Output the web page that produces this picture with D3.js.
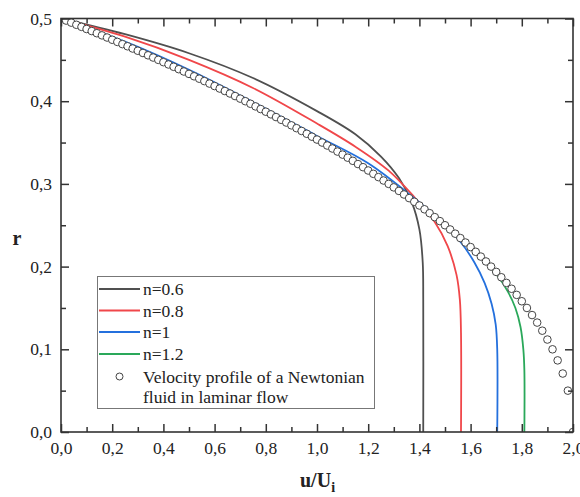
<!DOCTYPE html>
<html>
<head>
<meta charset="utf-8">
<script src="https://cdn.jsdelivr.net/npm/d3@7"></script>
<style>
  body { margin: 0; background: #fff; }
  text { font-family: "Liberation Serif", "Times New Roman", serif; fill: #222; }
</style>
</head>
<body>
<div id="chart"></div>
<script>
// Series names and colours (legend order)
const seriesNames = ["n=0.6", "n=0.8", "n=1", "n=1.2"];
const seriesColors = ["#505050", "#f0474a", "#2470dd", "#2aa85a"];

// Curves: u/Ui values and matching r values
const uN06 = [0, 0.25, 0.5, 0.75, 1.0, 1.15, 1.25, 1.32, 1.37, 1.40, 1.413, 1.415, 1.415];
const rN06 = [0.5, 0.481, 0.458, 0.428, 0.388, 0.360, 0.333, 0.307, 0.278, 0.245, 0.205, 0.16, 0];

const uN08 = [0, 0.25, 0.5, 0.75, 1.0, 1.15, 1.28, 1.38, 1.46, 1.51, 1.545, 1.558, 1.5625, 1.5625];
const rN08 = [0.5, 0.478, 0.450, 0.416, 0.373, 0.345, 0.316, 0.284, 0.254, 0.225, 0.19, 0.16, 0.12, 0];

const uN1 = [0, 0.25, 0.5, 0.75, 1.0, 1.2, 1.375, 1.47, 1.56, 1.615, 1.655, 1.682, 1.698, 1.704, 1.704];
const rN1 = [0.5, 0.472, 0.438, 0.399, 0.358, 0.325, 0.284, 0.259, 0.230, 0.205, 0.18, 0.155, 0.13, 0.10, 0];

const uN12 = [0, 0.25, 0.5, 0.75, 1.0, 1.25, 1.5, 1.65, 1.70, 1.745, 1.775, 1.795, 1.806, 1.81, 1.81];
const rN12 = [0.5, 0.468, 0.433, 0.395, 0.353, 0.305, 0.249, 0.208, 0.191, 0.170, 0.150, 0.127, 0.10, 0.075, 0];

// Newtonian laminar profile (open circles)
const uNewt = [0, 0.02, 0.04, 0.06, 0.08, 0.1, 0.12, 0.14, 0.16, 0.18, 0.2, 0.22, 0.24, 0.26, 0.28, 0.3,
  0.32, 0.34, 0.36, 0.38, 0.4, 0.42, 0.44, 0.46, 0.48, 0.5, 0.52, 0.54, 0.56, 0.58, 0.6,
  0.62, 0.64, 0.66, 0.68, 0.7, 0.72, 0.74, 0.76, 0.78, 0.8, 0.82, 0.84, 0.86, 0.88, 0.9,
  0.92, 0.94, 0.96, 0.98, 1.0, 1.02, 1.04, 1.06, 1.08, 1.1, 1.12, 1.14, 1.16, 1.18, 1.2,
  1.22, 1.24, 1.26, 1.28, 1.3, 1.32, 1.34, 1.36, 1.38, 1.4, 1.42, 1.44, 1.46, 1.48, 1.5,
  1.52, 1.54, 1.56, 1.58, 1.6, 1.62, 1.64, 1.66, 1.68, 1.7, 1.72, 1.74, 1.76, 1.78, 1.8,
  1.82, 1.84, 1.86, 1.88, 1.9, 1.92, 1.94, 1.96, 1.98, 2.0];
const rNewt = [0.5, 0.4975, 0.495, 0.4924, 0.4899, 0.4873, 0.4848, 0.4822, 0.4796, 0.477, 0.4743,
  0.4717, 0.469, 0.4664, 0.4637, 0.461, 0.4583, 0.4555, 0.4528, 0.45, 0.4472,
  0.4444, 0.4416, 0.4387, 0.4359, 0.433, 0.4301, 0.4272, 0.4243, 0.4213, 0.4183,
  0.4153, 0.4123, 0.4093, 0.4062, 0.4031, 0.4, 0.3969, 0.3937, 0.3905, 0.3873,
  0.3841, 0.3808, 0.3775, 0.3742, 0.3708, 0.3674, 0.364, 0.3606, 0.3571, 0.3536,
  0.35, 0.3464, 0.3428, 0.3391, 0.3354, 0.3317, 0.3279, 0.324, 0.3202, 0.3162,
  0.3122, 0.3082, 0.3041, 0.3, 0.2958, 0.2915, 0.2872, 0.2828, 0.2784, 0.2739,
  0.2693, 0.2646, 0.2598, 0.255, 0.25, 0.2449, 0.2398, 0.2345, 0.2291, 0.2236,
  0.2179, 0.2121, 0.2062, 0.2, 0.1936, 0.1871, 0.1803, 0.1732, 0.1658, 0.1581,
  0.15, 0.1414, 0.1323, 0.1225, 0.1118, 0.1, 0.0866, 0.0707, 0.05, 0];

// Ticks
const xMajor = [0, 0.2, 0.4, 0.6, 0.8, 1.0, 1.2, 1.4, 1.6, 1.8, 2.0];
const xMinor = [0.1, 0.3, 0.5, 0.7, 0.9, 1.1, 1.3, 1.5, 1.7, 1.9];
const yMajor = [0, 0.1, 0.2, 0.3, 0.4, 0.5];
const yMinor = [0.05, 0.15, 0.25, 0.35, 0.45];

const width = 580, height = 497;
const plotLeft = 61, plotRight = 573, plotTop = 18.5, plotBottom = 432;
const fontSize = "17.5px";

const svg = d3.select("#chart").append("svg")
    .attr("width", width)
    .attr("height", height);

const x = d3.scaleLinear().domain([0, 2]).range([plotLeft, plotRight]);
const y = d3.scaleLinear().domain([0, 0.5]).range([plotBottom, plotTop]);

const fmt = d => d3.format(".1f")(d).replace(".", ",");

svg.append("clipPath").attr("id", "plotclip")
    .append("rect")
    .attr("x", plotLeft).attr("y", plotTop)
    .attr("width", plotRight - plotLeft).attr("height", plotBottom - plotTop);

// Curves
const curves = [[uN06, rN06], [uN08, rN08], [uN1, rN1], [uN12, rN12]];
const line = d3.line()
    .x(d => x(d[0]))
    .y(d => y(d[1]))
    .curve(d3.curveCatmullRom.alpha(0.5));

const plot = svg.append("g").attr("clip-path", "url(#plotclip)");

curves.forEach((c, i) => {
    const pts = c[0].map((u, j) => [u, c[1][j]]);
    plot.append("path")
        .datum(pts)
        .attr("d", line)
        .attr("fill", "none")
        .attr("stroke", seriesColors[i])
        .attr("stroke-width", 1.8);
});

// Newtonian circles, white filled, drawn left to right
plot.selectAll("circle.newt")
    .data(uNewt.map((u, j) => [u, rNewt[j]]))
    .enter().append("circle")
    .attr("class", "newt")
    .attr("cx", d => x(d[0]))
    .attr("cy", d => y(d[1]))
    .attr("r", 3.8)
    .attr("fill", "#fff")
    .attr("stroke", "#444")
    .attr("stroke-width", 1);

// Axes: all ticks point inward
const axisColor = "#333";
function styleAxis(g) {
    g.select(".domain").remove();
    g.selectAll("line").attr("stroke", axisColor).attr("stroke-width", 1.5);
    g.selectAll("text").attr("font-size", fontSize)
        .style("font-family", "'Liberation Serif', 'Times New Roman', serif")
        .attr("fill", "#222");
}

svg.append("g").attr("transform", `translate(0,${plotBottom})`)
    .call(d3.axisBottom(x).tickValues(xMajor).tickSizeInner(-8).tickSizeOuter(0).tickPadding(10).tickFormat(fmt))
    .call(styleAxis);
svg.append("g").attr("transform", `translate(0,${plotBottom})`)
    .call(d3.axisBottom(x).tickValues(xMinor).tickSizeInner(-5).tickSizeOuter(0).tickFormat(""))
    .call(styleAxis);
svg.append("g").attr("transform", `translate(0,${plotTop})`)
    .call(d3.axisTop(x).tickValues(xMajor).tickSizeInner(-8).tickSizeOuter(0).tickFormat(""))
    .call(styleAxis);
svg.append("g").attr("transform", `translate(0,${plotTop})`)
    .call(d3.axisTop(x).tickValues(xMinor).tickSizeInner(-5).tickSizeOuter(0).tickFormat(""))
    .call(styleAxis);

svg.append("g").attr("transform", `translate(${plotLeft},0)`)
    .call(d3.axisLeft(y).tickValues(yMajor).tickSizeInner(-8).tickSizeOuter(0).tickPadding(9).tickFormat(fmt))
    .call(styleAxis);
svg.append("g").attr("transform", `translate(${plotLeft},0)`)
    .call(d3.axisLeft(y).tickValues(yMinor).tickSizeInner(-5).tickSizeOuter(0).tickFormat(""))
    .call(styleAxis);
svg.append("g").attr("transform", `translate(${plotRight},0)`)
    .call(d3.axisRight(y).tickValues(yMajor).tickSizeInner(-8).tickSizeOuter(0).tickFormat(""))
    .call(styleAxis);
svg.append("g").attr("transform", `translate(${plotRight},0)`)
    .call(d3.axisRight(y).tickValues(yMinor).tickSizeInner(-5).tickSizeOuter(0).tickFormat(""))
    .call(styleAxis);

// Frame
svg.append("rect")
    .attr("x", plotLeft).attr("y", plotTop)
    .attr("width", plotRight - plotLeft).attr("height", plotBottom - plotTop)
    .attr("fill", "none")
    .attr("stroke", axisColor)
    .attr("stroke-width", 1.6);

// Axis titles
svg.append("text")
    .attr("x", 17).attr("y", 245)
    .attr("text-anchor", "middle")
    .attr("font-size", "20px")
    .attr("font-weight", "bold")
    .text("r");

const xTitle = svg.append("text")
    .attr("x", 300).attr("y", 487)
    .attr("font-size", "20px")
    .attr("font-weight", "bold");
xTitle.append("tspan").text("u/U");
xTitle.append("tspan").attr("dy", 5).attr("font-size", "14px").text("i");

// Legend
const legend = svg.append("g");
legend.append("rect")
    .attr("x", 97.5).attr("y", 276.5)
    .attr("width", 277).attr("height", 132)
    .attr("fill", "#fff")
    .attr("stroke", "#777")
    .attr("stroke-width", 1);

const rowY = [289, 310.5, 332, 354];
seriesNames.forEach((name, i) => {
    legend.append("line")
        .attr("x1", 99).attr("x2", 140)
        .attr("y1", rowY[i]).attr("y2", rowY[i])
        .attr("stroke", seriesColors[i])
        .attr("stroke-width", 1.8);
    legend.append("text")
        .attr("x", 143).attr("y", rowY[i])
        .attr("dy", "0.35em")
        .attr("font-size", fontSize)
        .text(name);
});
legend.append("circle")
    .attr("cx", 119.5).attr("cy", 376.5)
    .attr("r", 3.5)
    .attr("fill", "#fff")
    .attr("stroke", "#444");
legend.append("text")
    .attr("x", 143).attr("y", 376.5)
    .attr("dy", "0.35em")
    .attr("font-size", fontSize)
    .text("Velocity profile of a Newtonian");
legend.append("text")
    .attr("x", 143).attr("y", 397)
    .attr("dy", "0.35em")
    .attr("font-size", fontSize)
    .text("fluid in laminar flow");
</script>
</body>
</html>
